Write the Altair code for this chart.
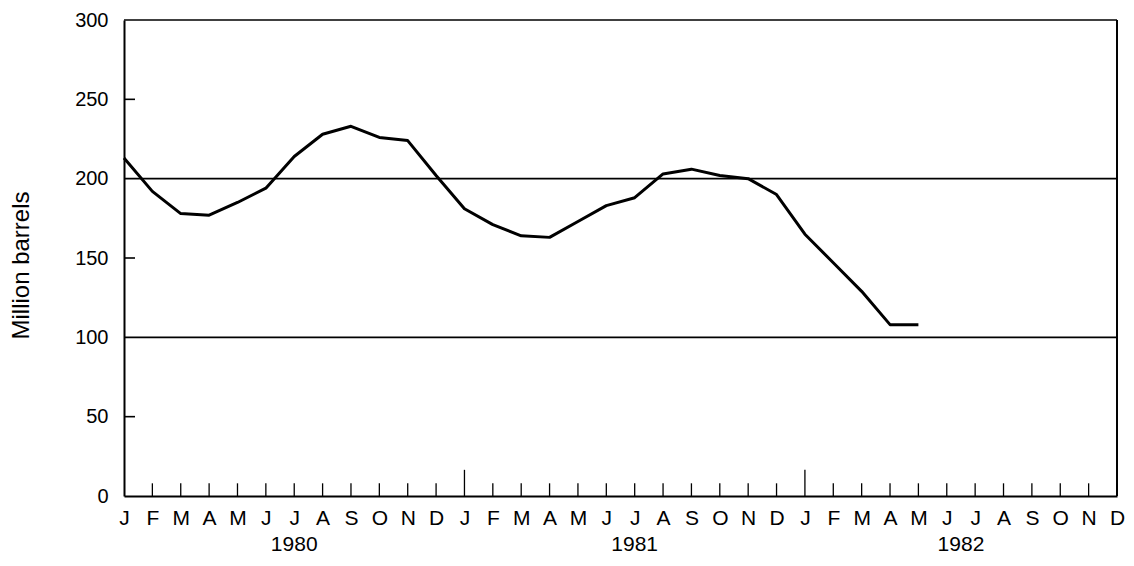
import altair as alt
import pandas as pd

# Month index 0 = Jan 1980 ... 35 = Dec 1982
month_letters = ["J", "F", "M", "A", "M", "J", "J", "A", "S", "O", "N", "D"] * 3
stock_values = [213, 192, 178, 177, 185, 194, 214, 228, 233, 226, 224, 202,
                181, 171, 164, 163, 173, 183, 188, 203, 206, 202, 200, 190,
                165, 147, 129, 108, 108]
years = ["1980", "1981", "1982"]
year_label_month = [6, 18, 29.5]
year_start_months = [12, 24]
grid_values = [100, 200, 300]
minor_y_ticks = [50, 150, 250]

W, H = 993, 476
FONT = "Liberation Sans"

line_df = pd.DataFrame({"m": list(range(len(stock_values))), "v": stock_values})
tick_df = pd.DataFrame({
    "m": list(range(1, 36)),
    "len": [16.5 if i in year_start_months else 8 for i in range(1, 36)],
})
grid_df = pd.DataFrame({"v": grid_values})
minor_df = pd.DataFrame({"v": minor_y_ticks})
year_df = pd.DataFrame({"year": years, "m": year_label_month})

labels_js = "[" + ",".join('"%s"' % s for s in month_letters) + "]"

xscale = alt.Scale(domain=[0, 35], nice=False, zero=False)
yscale = alt.Scale(domain=[0, 300], nice=False)

x_axis = alt.Axis(
    values=list(range(36)), tickCount=36,
    labelExpr=labels_js + "[datum.value]",
    ticks=False, grid=False, domainWidth=2, domainColor="black",
    labelFont=FONT, labelFontSize=21, labelColor="black",
    labelPadding=11, labelOverlap=False, labelFlush=False, title=None,
)
y_axis = alt.Axis(
    values=[0, 50, 100, 150, 200, 250, 300],
    ticks=False, grid=False, domainWidth=2, domainColor="black",
    labelFont=FONT, labelFontSize=20, labelColor="black", labelPadding=16,
    labelOverlap=False,
    title="Million barrels", titleFont=FONT, titleFontSize=24,
    titleFontWeight="normal", titleColor="black",
    titleAngle=270, titleX=-103, titleY=245, titleAlign="center",
    titleBaseline="middle",
)

X = lambda f: alt.X(f, scale=xscale, axis=x_axis)
Y = lambda f: alt.Y(f, scale=yscale, axis=y_axis)

line = alt.Chart(line_df).mark_line(
    color="black", strokeWidth=3, strokeJoin="round"
).encode(x=X("m:Q"), y=Y("v:Q"))

grid = alt.Chart(grid_df).mark_rule(color="black", strokeWidth=1.6).encode(
    x=alt.value(0), x2=alt.value(W), y=Y("v:Q")
)

minor = alt.Chart(minor_df).mark_rule(color="black", strokeWidth=1.6).encode(
    x=alt.value(0), x2=alt.value(11), y=Y("v:Q")
)

ticks = alt.Chart(tick_df).mark_rule(color="black", strokeWidth=1.3).encode(
    x=X("m:Q"), y=Y("len:Q"), y2=alt.value(H),
)

right_border = alt.Chart(grid_df).mark_rule(color="black", strokeWidth=1.6).encode(
    x=alt.value(W), y=alt.value(0), y2=alt.value(H)
)

year_text = alt.Chart(year_df).mark_text(
    font=FONT, fontSize=21, color="black", baseline="middle", align="center"
).encode(
    x=X("m:Q"), y=alt.value(H + 49), text="year:N"
)

chart = alt.layer(line, grid, minor, right_border, ticks, year_text).properties(
    width=W, height=H,
    padding={"left": 116, "top": 12, "right": 9, "bottom": 62},
    autosize=alt.AutoSizeParams(type="none"),
    background="white",
).configure_view(stroke=None).configure_axis(labelOverlap=False)

chart.save("out.html", embed_options={"renderer": "svg", "actions": False})
